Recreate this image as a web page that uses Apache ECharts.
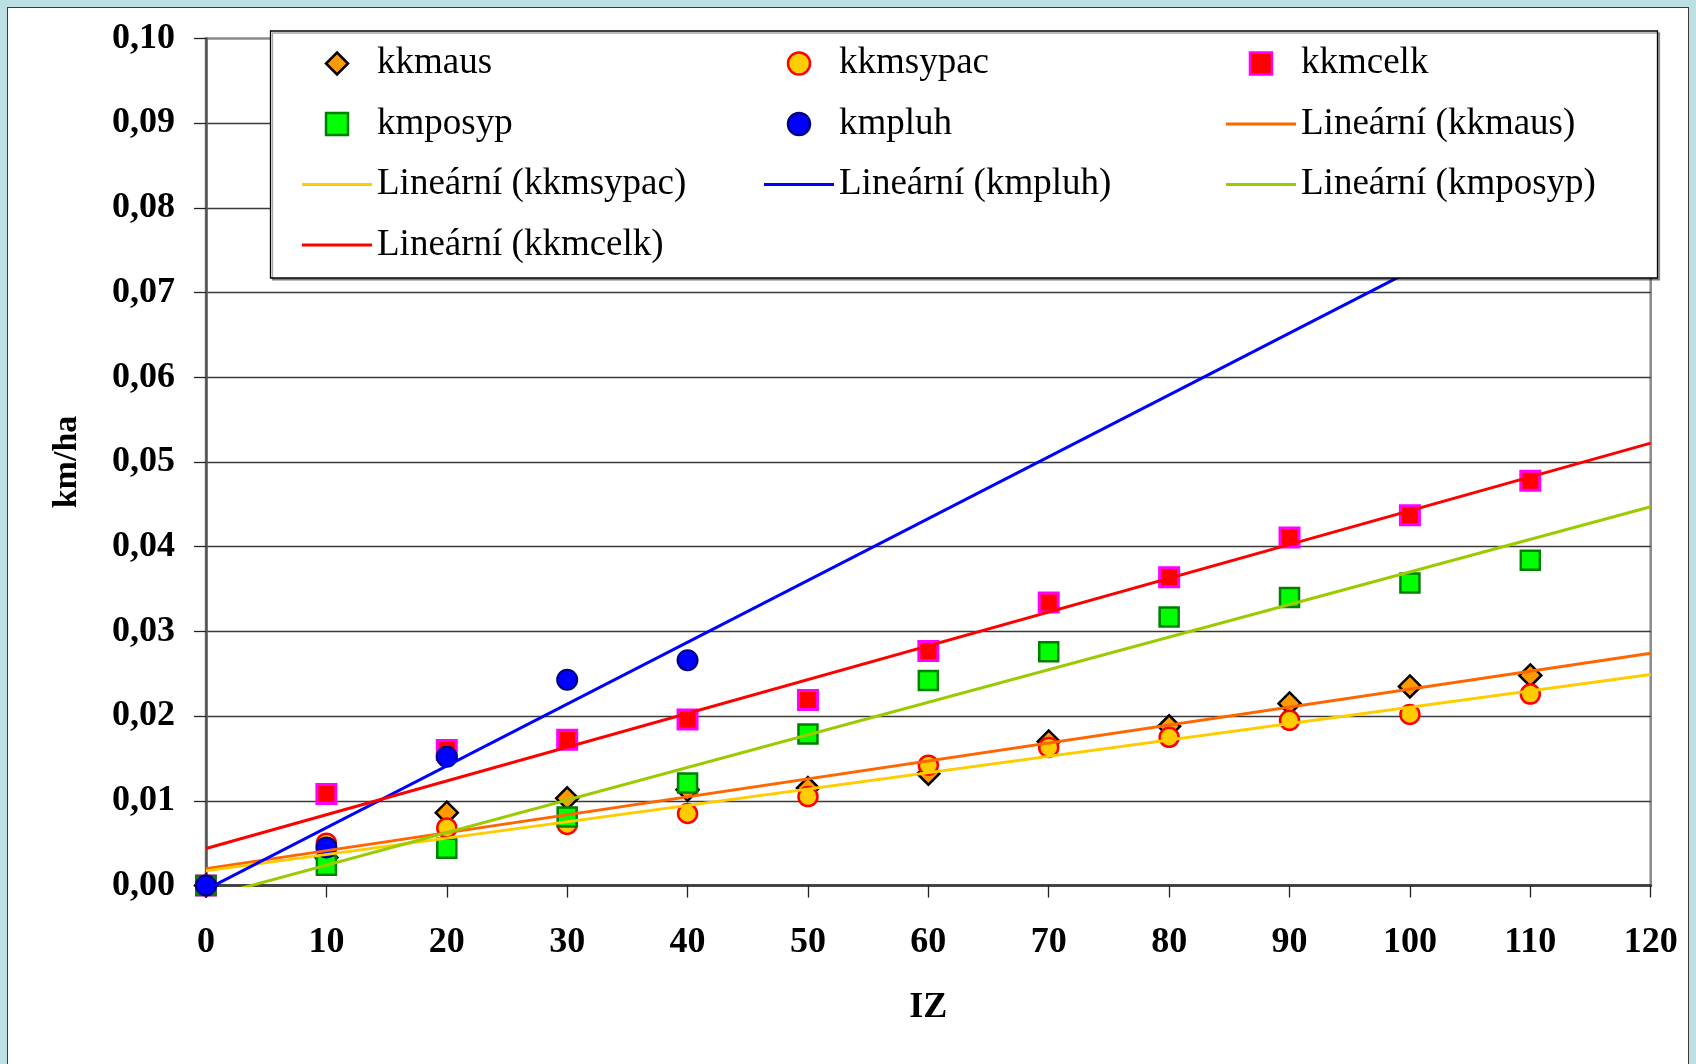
<!DOCTYPE html>
<html>
<head>
<meta charset="utf-8">
<script src="https://cdn.jsdelivr.net/npm/echarts@6/dist/echarts.min.js"></script>
<style>
  html, body { margin: 0; padding: 0; width: 1696px; height: 1064px; overflow: hidden; background: #BBDFE3; }
  #panel { position: absolute; left: 7px; top: 7px; width: 1682px; height: 1100px; background: #fff;
           border: 1.5px solid #3a3a3a; box-sizing: border-box; }
  #chart { position: absolute; left: 0; top: 0; width: 1696px; height: 1064px; }
</style>
</head>
<body>
<div id="panel"></div>
<div id="chart"></div>
<script>
// IZ values (x) and measured km/ha values per series
const izValues = [0, 10, 20, 30, 40, 50, 60, 70, 80, 90, 100, 110];
const kkmaus   = [0, 0.0033, 0.0086, 0.0103, 0.0113, 0.0115, 0.0132, 0.0170, 0.0188, 0.0215, 0.0235, 0.0248];
const kkmsypac = [0, 0.0050, 0.0068, 0.0072, 0.0085, 0.0105, 0.0142, 0.0163, 0.0175, 0.0195, 0.0202, 0.0226];
const kkmcelk  = [0, 0.0108, 0.0160, 0.0172, 0.0196, 0.0219, 0.0277, 0.0334, 0.0364, 0.0411, 0.0437, 0.0478];
const kmposyp  = [0, 0.0024, 0.0044, 0.0081, 0.0121, 0.0179, 0.0242, 0.0276, 0.0317, 0.0340, 0.0357, 0.0384];
const kmpluh   = [0, 0.0045, 0.0152, 0.0243, 0.0266];

const xTicks = [0, 120, 10];      // min, max, interval
const yTicks = [0, 0.10, 0.01];

const serif = '"Liberation Serif", "Times New Roman", serif';

function pairs(ys) {
  return ys.map((y, i) => [izValues[i], y]);
}

// least-squares linear trend, drawn across the whole x range
function trend(ys) {
  const xs = izValues.slice(0, ys.length);
  const n = ys.length;
  const mx = xs.reduce((a, b) => a + b, 0) / n;
  const my = ys.reduce((a, b) => a + b, 0) / n;
  let sxy = 0, sxx = 0;
  for (let i = 0; i < n; i++) {
    sxy += (xs[i] - mx) * (ys[i] - my);
    sxx += (xs[i] - mx) * (xs[i] - mx);
  }
  const b = sxy / sxx;
  const a = my - b * mx;
  return [[xTicks[0], a + b * xTicks[0]], [xTicks[1], a + b * xTicks[1]]];
}

function scatter(name, ys, symbol, size, fill, border, bw) {
  return {
    name, type: 'scatter', data: pairs(ys), symbol, symbolSize: size, z: 2,
    itemStyle: { color: fill, borderColor: border, borderWidth: bw, opacity: 1 },
    emphasis: { disabled: true }
  };
}

function trendLine(name, ys, color) {
  return {
    name, type: 'line', data: trend(ys), symbol: 'none', showSymbol: false, z: 3, clip: true,
    lineStyle: { color, width: 3 }, itemStyle: { color },
    emphasis: { disabled: true }
  };
}

// legend entries: marker icons (kept square) and short line icons
const icons = {
  diamond: 'path://M12,0L24,12L12,24L0,12Z',
  square: 'path://M0,0H20V20H0Z',
  circle: 'circle',
  line: 'path://M0,0H70V3H0Z'
};
const mark = (name, icon) => ({ name, icon: icons[icon] });
const stroke = name => ({ name, icon: icons.line, itemStyle: { borderWidth: 0 } });

const legendText = { fontFamily: serif, fontSize: 37, color: '#000' };

function legendColumn(left, items) {
  return {
    orient: 'vertical', left, top: 45, padding: 0,
    itemWidth: 70, itemHeight: 22, itemGap: 23.5,
    selectedMode: false, z: 4, symbolKeepAspect: true,
    itemStyle: { borderWidth: 2.5 },
    textStyle: legendText,
    data: items
  };
}

const chart = echarts.init(document.getElementById('chart'), null, { renderer: 'canvas' });

chart.setOption({
  animation: false,
  backgroundColor: 'transparent',
  grid: {
    left: 206, top: 38.5, width: 1444.7, height: 847,
    show: true, borderColor: '#8a8a8a', borderWidth: 2.5, backgroundColor: 'transparent'
  },
  xAxis: {
    type: 'value', min: xTicks[0], max: xTicks[1], interval: xTicks[2],
    name: 'IZ', nameLocation: 'middle', nameGap: 104,
    nameTextStyle: { fontFamily: serif, fontSize: 36, fontWeight: 'bold', color: '#000' },
    axisLine: { show: true, onZero: false, lineStyle: { color: '#444', width: 3 } },
    axisTick: { show: true, inside: false, length: 12, lineStyle: { color: '#222', width: 1.3 } },
    axisLabel: { margin: 39, fontFamily: serif, fontSize: 36, fontWeight: 'bold', color: '#000' },
    splitLine: { show: false }
  },
  yAxis: {
    type: 'value', min: yTicks[0], max: yTicks[1], interval: yTicks[2],
    name: 'km/ha', nameLocation: 'middle', nameGap: 122, nameRotate: 90,
    nameTextStyle: { fontFamily: serif, fontSize: 34, fontWeight: 'bold', color: '#000' },
    axisLine: { show: true, onZero: false, lineStyle: { color: '#555', width: 2.5 } },
    axisTick: { show: true, inside: false, length: 12, lineStyle: { color: '#222', width: 1.3 } },
    axisLabel: {
      margin: 31, fontFamily: serif, fontSize: 36, fontWeight: 'bold', color: '#000',
      formatter: v => v.toFixed(2).replace('.', ',')
    },
    splitLine: { show: true, showMinLine: false, showMaxLine: false, lineStyle: { color: '#3a3a3a', width: 1.3 } }
  },
  legend: [
    legendColumn(302, [mark('kkmaus', 'diamond'), mark('kmposyp', 'square'),
                       stroke('Lineární (kkmsypac)'), stroke('Lineární (kkmcelk)')]),
    legendColumn(764, [mark('kkmsypac', 'circle'), mark('kmpluh', 'circle'),
                       stroke('Lineární (kmpluh)')]),
    legendColumn(1226, [mark('kkmcelk', 'square'), stroke('Lineární (kkmaus)'),
                        stroke('Lineární (kmposyp)')])
  ],
  graphic: [{
    type: 'rect', z: 3.8, silent: true,
    shape: { x: 270.5, y: 31, width: 1387, height: 247 },
    style: { fill: '#fff', stroke: '#000', lineWidth: 1.3,
             shadowColor: 'rgba(0,0,0,0.35)', shadowOffsetX: 2, shadowOffsetY: 2, shadowBlur: 0 }
  }],
  series: [
    scatter('kkmaus', kkmaus, 'diamond', [22, 22], '#FF9900', '#000000', 2.5),
    scatter('kkmsypac', kkmsypac, 'circle', 19, '#FFCC00', '#FF0000', 2.5),
    scatter('kkmcelk', kkmcelk, 'rect', 19, '#FF0000', '#FF00FF', 3),
    scatter('kmposyp', kmposyp, 'rect', 19, '#00FF00', '#008000', 2.5),
    scatter('kmpluh', kmpluh, 'circle', 20, '#0000FF', '#000080', 2),
    trendLine('Lineární (kkmaus)', kkmaus, '#FF6600'),
    trendLine('Lineární (kkmsypac)', kkmsypac, '#FFCC00'),
    trendLine('Lineární (kmpluh)', kmpluh, '#0000FF'),
    trendLine('Lineární (kmposyp)', kmposyp, '#99CC00'),
    trendLine('Lineární (kkmcelk)', kkmcelk, '#FF0000')
  ]
});
</script>
</body>
</html>
